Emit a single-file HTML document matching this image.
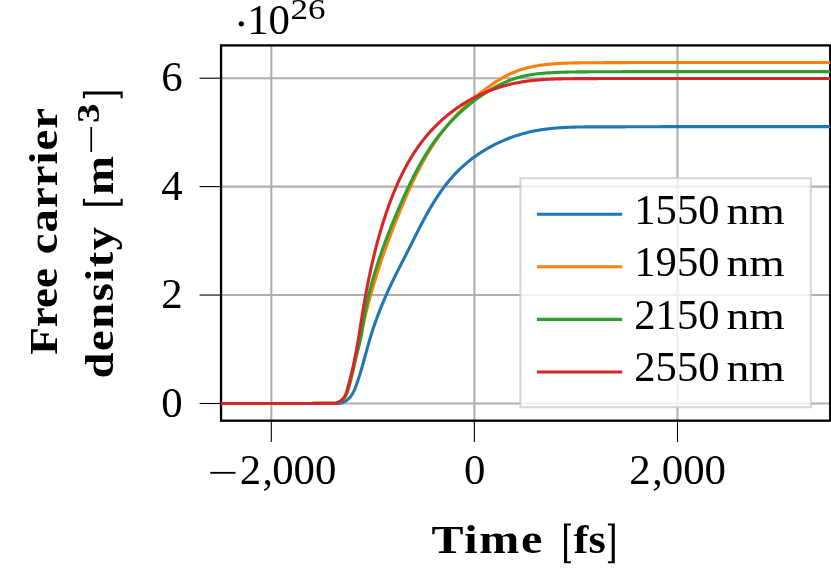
<!DOCTYPE html>
<html><head><meta charset="utf-8"><title>Free carrier density</title>
<style>
html,body{margin:0;padding:0;background:#fff;}
body{width:831px;height:579px;overflow:hidden;}
svg{display:block;will-change:transform;}
text{font-family:"Liberation Serif",serif;fill:#000;}
</style></head><body>
<svg width="831" height="579" viewBox="0 0 831 579">
<rect x="0" y="0" width="831" height="579" fill="#fff"/>
<defs><clipPath id="clip"><rect x="221.05" y="45.4" width="609.15" height="375.30"/></clipPath></defs>
<g stroke="#b0b0b0" stroke-width="2.1" fill="none">
<line x1="271.3" y1="45.4" x2="271.3" y2="420.7"/>
<line x1="474.4" y1="45.4" x2="474.4" y2="420.7"/>
<line x1="677.5" y1="45.4" x2="677.5" y2="420.7"/>
<line x1="221.05" y1="78.2" x2="830.2" y2="78.2"/>
<line x1="221.05" y1="186.6" x2="830.2" y2="186.6"/>
<line x1="221.05" y1="295.05" x2="830.2" y2="295.05"/>
<line x1="221.05" y1="403.5" x2="830.2" y2="403.5"/>
</g>
<g stroke="#000" stroke-width="1.1" fill="none">
<line x1="271.3" y1="420.7" x2="271.3" y2="442.0"/>
<line x1="474.4" y1="420.7" x2="474.4" y2="442.0"/>
<line x1="677.5" y1="420.7" x2="677.5" y2="442.0"/>
<line x1="199.55" y1="78.2" x2="221.05" y2="78.2"/>
<line x1="199.55" y1="186.6" x2="221.05" y2="186.6"/>
<line x1="199.55" y1="295.05" x2="221.05" y2="295.05"/>
<line x1="199.55" y1="403.5" x2="221.05" y2="403.5"/>
</g>
<rect x="221.05" y="45.4" width="609.15" height="375.30" fill="none" stroke="#000" stroke-width="2.3"/>
<g fill="none" stroke-width="3.1" stroke-linecap="round" stroke-linejoin="round" clip-path="url(#clip)">
<path stroke="#1f77b4" d="M221.05 403.50 L299.97 403.50 L299.97 403.49 L301.23 403.49 L302.48 403.49 L303.71 403.49 L304.95 403.49 L306.17 403.49 L307.39 403.49 L308.61 403.49 L309.82 403.49 L311.03 403.49 L312.24 403.49 L313.44 403.49 L314.64 403.48 L315.84 403.47 L317.04 403.46 L318.25 403.45 L319.45 403.44 L320.66 403.44 L321.86 403.44 L323.07 403.44 L324.29 403.44 L325.51 403.44 L326.73 403.44 L327.96 403.44 L329.20 403.44 L330.45 403.44 L331.70 403.44 L332.95 403.44 L334.20 403.44 L335.45 403.44 L336.68 403.44 L337.91 403.44 L339.12 403.35 L340.31 403.15 L341.47 402.87 L342.61 402.51 L343.72 402.06 L344.79 401.52 L345.83 400.90 L346.82 400.20 L347.77 399.44 L348.68 398.62 L349.53 397.74 L350.34 396.81 L351.09 395.84 L351.78 394.84 L352.43 393.81 L353.03 392.74 L353.59 391.66 L354.12 390.55 L354.62 389.42 L355.09 388.29 L355.54 387.14 L355.97 385.99 L356.39 384.83 L356.81 383.68 L357.21 382.53 L357.61 381.37 L358.01 380.22 L358.40 379.07 L358.78 377.92 L359.15 376.77 L359.52 375.61 L359.89 374.45 L360.25 373.29 L360.60 372.13 L360.95 370.97 L361.30 369.80 L361.64 368.63 L361.98 367.46 L362.32 366.28 L362.65 365.10 L362.98 363.93 L363.31 362.75 L363.64 361.56 L363.96 360.38 L364.29 359.20 L364.61 358.01 L364.93 356.83 L365.25 355.64 L365.57 354.45 L365.90 353.27 L366.22 352.08 L366.54 350.89 L366.86 349.71 L367.19 348.52 L367.51 347.34 L367.84 346.15 L368.17 344.97 L368.50 343.79 L368.84 342.61 L369.18 341.43 L369.52 340.25 L369.87 339.08 L370.22 337.91 L370.57 336.74 L370.93 335.57 L371.29 334.40 L371.66 333.24 L372.03 332.08 L372.40 330.92 L372.78 329.76 L373.17 328.61 L373.55 327.46 L373.95 326.30 L374.34 325.16 L374.74 324.01 L375.14 322.87 L375.55 321.72 L375.96 320.58 L376.37 319.44 L376.79 318.31 L377.21 317.17 L377.64 316.04 L378.07 314.90 L378.50 313.77 L378.93 312.65 L379.37 311.52 L379.81 310.39 L380.26 309.27 L380.71 308.15 L381.16 307.02 L381.61 305.90 L382.07 304.79 L382.53 303.67 L382.99 302.55 L383.46 301.44 L383.93 300.32 L384.40 299.21 L384.87 298.10 L385.35 296.99 L385.83 295.88 L386.31 294.77 L386.80 293.67 L387.29 292.56 L387.77 291.45 L388.27 290.35 L388.78 289.25 L389.30 288.14 L389.82 287.04 L390.34 285.94 L390.86 284.84 L391.39 283.74 L391.92 282.64 L392.45 281.54 L392.99 280.44 L393.52 279.35 L394.06 278.25 L394.60 277.15 L395.14 276.06 L395.68 274.96 L396.22 273.86 L396.77 272.77 L397.31 271.67 L397.86 270.58 L398.41 269.48 L398.96 268.39 L399.52 267.29 L400.07 266.20 L400.63 265.10 L401.18 264.01 L401.74 262.91 L402.30 261.82 L402.86 260.72 L403.42 259.63 L403.98 258.53 L404.54 257.44 L405.10 256.34 L405.67 255.25 L406.23 254.15 L406.80 253.05 L407.36 251.95 L407.93 250.86 L408.49 249.76 L409.04 248.66 L409.58 247.56 L410.13 246.46 L410.68 245.36 L411.23 244.26 L411.77 243.16 L412.32 242.05 L412.87 240.95 L413.42 239.85 L413.97 238.74 L414.52 237.64 L415.07 236.54 L415.63 235.43 L416.18 234.33 L416.74 233.23 L417.29 232.13 L417.85 231.02 L418.41 229.92 L418.97 228.82 L419.54 227.72 L420.10 226.63 L420.67 225.53 L421.24 224.43 L421.82 223.34 L422.39 222.25 L422.97 221.16 L423.55 220.07 L424.13 218.98 L424.72 217.90 L425.31 216.81 L425.90 215.73 L426.50 214.66 L427.10 213.58 L427.70 212.51 L428.31 211.44 L428.92 210.37 L429.53 209.30 L430.15 208.24 L430.77 207.18 L431.39 206.13 L432.02 205.08 L432.66 204.03 L433.30 202.98 L433.94 201.94 L434.59 200.90 L435.24 199.87 L435.90 198.84 L436.56 197.82 L437.23 196.80 L437.90 195.78 L438.58 194.77 L439.27 193.76 L439.95 192.76 L440.65 191.76 L441.35 190.77 L442.06 189.78 L442.77 188.80 L443.49 187.82 L444.22 186.85 L444.95 185.89 L445.69 184.93 L446.43 183.97 L447.18 183.03 L447.94 182.08 L448.71 181.15 L449.48 180.22 L450.26 179.30 L451.04 178.38 L451.84 177.47 L452.64 176.56 L453.45 175.67 L454.27 174.78 L455.09 173.90 L455.92 173.02 L456.76 172.15 L457.61 171.29 L458.47 170.44 L459.33 169.59 L460.21 168.75 L461.09 167.92 L461.98 167.10 L462.87 166.29 L463.78 165.48 L464.69 164.68 L465.60 163.89 L466.53 163.10 L467.46 162.32 L468.40 161.56 L469.35 160.79 L470.30 160.04 L471.26 159.30 L472.23 158.56 L473.20 157.83 L474.18 157.11 L475.17 156.40 L476.16 155.69 L477.16 155.00 L478.16 154.31 L479.18 153.63 L480.19 152.96 L481.21 152.29 L482.24 151.64 L483.28 150.99 L484.32 150.35 L485.36 149.72 L486.41 149.10 L487.47 148.49 L488.53 147.88 L489.59 147.28 L490.66 146.70 L491.74 146.12 L492.82 145.55 L493.90 144.99 L494.99 144.43 L496.08 143.89 L497.18 143.35 L498.28 142.83 L499.39 142.31 L500.50 141.80 L501.61 141.30 L502.73 140.81 L503.85 140.33 L504.98 139.86 L506.11 139.39 L507.24 138.94 L508.37 138.49 L509.51 138.06 L510.65 137.63 L511.80 137.21 L512.95 136.80 L514.10 136.40 L515.25 136.01 L516.41 135.63 L517.57 135.26 L518.73 134.90 L519.88 134.55 L521.03 134.21 L522.19 133.87 L523.35 133.55 L524.52 133.24 L525.68 132.93 L526.85 132.64 L528.02 132.35 L529.19 132.08 L530.36 131.81 L531.54 131.55 L532.71 131.31 L533.89 131.07 L535.07 130.84 L536.25 130.62 L537.44 130.40 L538.62 130.20 L539.81 130.00 L541.00 129.81 L542.19 129.63 L543.38 129.46 L544.58 129.29 L545.77 129.13 L546.97 128.98 L548.17 128.84 L549.37 128.70 L550.57 128.57 L551.77 128.44 L552.97 128.32 L554.18 128.21 L555.38 128.11 L556.59 128.01 L557.80 127.91 L559.01 127.82 L560.22 127.74 L561.43 127.66 L562.64 127.58 L563.85 127.51 L565.07 127.45 L566.28 127.39 L567.50 127.33 L568.71 127.28 L569.93 127.24 L571.15 127.19 L572.37 127.15 L573.58 127.12 L574.80 127.08 L576.02 127.05 L577.25 127.03 L578.47 127.00 L579.69 126.98 L580.91 126.96 L582.13 126.95 L583.36 126.93 L584.58 126.92 L585.80 126.91 L587.03 126.90 L588.25 126.89 L589.48 126.89 L590.70 126.88 L591.92 126.88 L593.15 126.88 L594.37 126.88 L595.60 126.88 L596.82 126.88 L598.05 126.88 L599.27 126.88 L600.49 126.87 L601.72 126.87 L602.94 126.87 L604.17 126.87 L605.39 126.87 L606.61 126.87 L607.84 126.87 L609.06 126.87 L610.28 126.86 L611.50 126.86 L612.72 126.86 L613.95 126.86 L615.17 126.86 L616.39 126.85 L617.61 126.85 L618.83 126.85 L620.05 126.84 L621.28 126.84 L622.50 126.84 L623.72 126.83 L624.94 126.83 L626.16 126.82 L627.38 126.82 L628.60 126.82 L629.82 126.81 L631.04 126.81 L632.26 126.80 L633.48 126.80 L634.70 126.79 L635.92 126.79 L637.14 126.78 L638.36 126.78 L639.58 126.77 L640.80 126.77 L642.02 126.76 L643.23 126.76 L644.45 126.75 L645.67 126.75 L646.89 126.74 L648.11 126.73 L649.33 126.73 L650.55 126.72 L651.77 126.72 L652.98 126.71 L654.20 126.71 L655.42 126.70 L656.64 126.70 L657.86 126.69 L659.08 126.68 L660.29 126.68 L661.51 126.67 L662.73 126.67 L663.95 126.66 L665.17 126.66 L666.38 126.65 L667.60 126.65 L668.82 126.64 L670.04 126.64 L671.26 126.63 L672.47 126.63 L673.69 126.62 L674.91 126.62 L676.13 126.61 L677.35 126.61 L678.56 126.60 L679.78 126.60 L681.00 126.60 L682.22 126.60 L683.44 126.60 L684.66 126.60 L685.87 126.60 L687.09 126.60 L688.31 126.60 L689.53 126.60 L690.75 126.60 L691.97 126.60 L693.18 126.60 L694.40 126.60 L695.62 126.60 L696.84 126.60 L698.06 126.60 L699.28 126.60 L700.50 126.60 L701.72 126.60 L702.94 126.60 L704.15 126.60 L705.37 126.60 L706.59 126.60 L707.81 126.60 L709.03 126.60 L710.25 126.60 L711.47 126.60 L712.69 126.60 L713.91 126.60 L715.13 126.60 L716.35 126.60 L717.57 126.60 L718.79 126.60 L720.01 126.60 L721.23 126.60 L722.45 126.60 L723.67 126.60 L724.89 126.60 L726.11 126.60 L727.34 126.60 L728.56 126.60 L729.78 126.60 L731.00 126.60 L732.22 126.60 L733.44 126.60 L734.67 126.60 L735.89 126.60 L737.11 126.60 L738.33 126.60 L739.56 126.60 L740.78 126.60 L742.00 126.60 L743.22 126.60 L744.45 126.60 L745.67 126.60 L746.90 126.60 L748.12 126.60 L749.34 126.60 L750.57 126.60 L830.20 126.60"/>
<path stroke="#ff7f0e" d="M221.05 403.50 L299.99 403.50 L299.99 403.50 L301.34 403.50 L302.69 403.50 L304.03 403.50 L305.36 403.50 L306.69 403.50 L308.02 403.50 L309.34 403.50 L310.66 403.49 L311.97 403.46 L313.29 403.44 L314.60 403.42 L315.92 403.40 L317.24 403.39 L318.56 403.39 L319.88 403.39 L321.21 403.39 L322.54 403.39 L323.87 403.39 L325.21 403.39 L326.56 403.39 L327.91 403.39 L329.25 403.39 L330.60 403.39 L331.94 403.39 L333.27 403.39 L334.60 403.36 L335.91 403.08 L337.20 402.71 L338.47 402.24 L339.68 401.68 L340.84 401.02 L341.93 400.27 L342.92 399.44 L343.82 398.51 L344.62 397.50 L345.33 396.42 L345.96 395.27 L346.52 394.08 L347.03 392.84 L347.48 391.57 L347.91 390.27 L348.30 388.97 L348.69 387.67 L349.06 386.37 L349.43 385.07 L349.78 383.78 L350.13 382.48 L350.46 381.19 L350.80 379.90 L351.13 378.61 L351.46 377.32 L351.79 376.04 L352.10 374.75 L352.42 373.47 L352.72 372.18 L353.03 370.90 L353.32 369.61 L353.62 368.33 L353.91 367.04 L354.20 365.76 L354.49 364.47 L354.77 363.19 L355.05 361.90 L355.34 360.61 L355.62 359.32 L355.90 358.02 L356.18 356.73 L356.46 355.43 L356.74 354.14 L357.03 352.84 L357.31 351.54 L357.59 350.24 L357.87 348.94 L358.16 347.63 L358.44 346.33 L358.73 345.02 L359.01 343.72 L359.30 342.41 L359.59 341.11 L359.87 339.80 L360.15 338.50 L360.43 337.19 L360.70 335.88 L360.98 334.58 L361.27 333.27 L361.55 331.96 L361.83 330.66 L362.12 329.35 L362.41 328.05 L362.70 326.74 L362.99 325.44 L363.29 324.13 L363.59 322.83 L363.89 321.53 L364.19 320.23 L364.50 318.93 L364.81 317.63 L365.12 316.33 L365.43 315.04 L365.75 313.74 L366.07 312.45 L366.39 311.16 L366.72 309.87 L367.05 308.58 L367.38 307.29 L367.71 306.00 L368.05 304.71 L368.39 303.43 L368.73 302.14 L369.07 300.86 L369.42 299.58 L369.77 298.29 L370.12 297.01 L370.48 295.73 L370.84 294.46 L371.20 293.18 L371.56 291.90 L371.93 290.63 L372.29 289.35 L372.66 288.08 L373.04 286.81 L373.41 285.54 L373.79 284.27 L374.17 283.00 L374.56 281.73 L374.94 280.46 L375.33 279.20 L375.72 277.93 L376.11 276.67 L376.51 275.40 L376.91 274.14 L377.31 272.88 L377.71 271.62 L378.11 270.36 L378.52 269.10 L378.93 267.84 L379.34 266.58 L379.76 265.32 L380.17 264.07 L380.59 262.81 L381.02 261.56 L381.44 260.31 L381.86 259.05 L382.29 257.80 L382.72 256.55 L383.16 255.30 L383.59 254.05 L384.03 252.80 L384.47 251.56 L384.91 250.31 L385.35 249.06 L385.80 247.82 L386.25 246.57 L386.70 245.33 L387.15 244.08 L387.60 242.84 L388.06 241.60 L388.52 240.36 L388.98 239.11 L389.44 237.87 L389.91 236.63 L390.37 235.39 L390.84 234.16 L391.31 232.92 L391.79 231.68 L392.26 230.44 L392.74 229.20 L393.22 227.97 L393.70 226.73 L394.18 225.50 L394.66 224.26 L395.15 223.03 L395.64 221.79 L396.13 220.56 L396.62 219.33 L397.12 218.09 L397.61 216.86 L398.11 215.63 L398.61 214.40 L399.11 213.16 L399.62 211.93 L400.12 210.70 L400.63 209.47 L401.14 208.24 L401.65 207.01 L402.16 205.78 L402.68 204.55 L403.19 203.32 L403.71 202.10 L404.23 200.87 L404.76 199.64 L405.28 198.42 L405.81 197.19 L406.34 195.97 L406.88 194.75 L407.41 193.53 L407.95 192.31 L408.50 191.09 L409.04 189.87 L409.59 188.66 L410.14 187.44 L410.70 186.23 L411.26 185.02 L411.82 183.81 L412.38 182.60 L412.95 181.40 L413.52 180.20 L414.10 178.99 L414.68 177.79 L415.26 176.60 L415.85 175.40 L416.44 174.21 L417.04 173.02 L417.64 171.83 L418.24 170.65 L418.85 169.47 L419.46 168.29 L420.08 167.11 L420.70 165.94 L421.33 164.77 L421.96 163.60 L422.59 162.43 L423.23 161.27 L423.88 160.11 L424.53 158.96 L425.18 157.81 L425.84 156.66 L426.51 155.51 L427.18 154.37 L427.86 153.23 L428.54 152.10 L429.23 150.97 L429.92 149.84 L430.62 148.72 L431.32 147.60 L432.03 146.49 L432.75 145.38 L433.47 144.27 L434.20 143.17 L434.94 142.08 L435.68 140.98 L436.42 139.90 L437.18 138.81 L437.94 137.73 L438.70 136.66 L439.48 135.59 L440.26 134.53 L441.04 133.47 L441.84 132.41 L442.64 131.36 L443.45 130.32 L444.26 129.28 L445.08 128.25 L445.91 127.22 L446.75 126.20 L447.59 125.18 L448.43 124.17 L449.26 123.16 L450.11 122.16 L450.96 121.16 L451.82 120.17 L452.69 119.19 L453.56 118.21 L454.44 117.23 L455.33 116.26 L456.22 115.30 L457.12 114.34 L458.02 113.38 L458.93 112.44 L459.85 111.49 L460.78 110.56 L461.71 109.62 L462.64 108.70 L463.59 107.77 L464.53 106.86 L465.49 105.95 L466.45 105.04 L467.41 104.14 L468.39 103.24 L469.36 102.35 L470.35 101.47 L471.33 100.59 L472.33 99.71 L473.35 98.85 L474.37 97.98 L475.39 97.12 L476.42 96.27 L477.46 95.42 L478.50 94.58 L479.55 93.74 L480.60 92.91 L481.65 92.08 L482.71 91.26 L483.78 90.44 L484.85 89.63 L485.92 88.82 L487.00 88.02 L488.08 87.23 L489.17 86.45 L490.27 85.67 L491.37 84.90 L492.47 84.14 L493.58 83.39 L494.70 82.65 L495.82 81.91 L496.94 81.19 L498.07 80.48 L499.21 79.78 L500.35 79.10 L501.50 78.42 L502.66 77.76 L503.82 77.11 L504.98 76.48 L506.15 75.86 L507.33 75.25 L508.52 74.66 L509.71 74.08 L510.90 73.53 L512.11 72.98 L513.32 72.46 L514.53 71.95 L515.75 71.46 L516.98 70.99 L518.22 70.53 L519.46 70.10 L520.71 69.68 L521.96 69.28 L523.22 68.90 L524.49 68.54 L525.76 68.19 L527.03 67.86 L528.32 67.54 L529.60 67.24 L530.89 66.95 L532.18 66.68 L533.48 66.42 L534.78 66.17 L536.09 65.94 L537.40 65.72 L538.71 65.51 L540.02 65.31 L541.33 65.13 L542.65 64.95 L543.97 64.78 L545.29 64.63 L546.62 64.48 L547.94 64.34 L549.27 64.21 L550.59 64.09 L551.92 63.98 L553.24 63.87 L554.57 63.77 L555.90 63.68 L557.22 63.59 L558.55 63.51 L559.88 63.43 L561.21 63.36 L562.54 63.30 L563.86 63.24 L565.19 63.18 L566.52 63.13 L567.85 63.08 L569.18 63.04 L570.51 63.00 L571.84 62.97 L573.17 62.94 L574.49 62.91 L575.82 62.89 L577.15 62.86 L578.48 62.85 L579.81 62.83 L581.14 62.81 L582.47 62.80 L583.80 62.79 L585.13 62.78 L586.46 62.77 L587.79 62.76 L589.12 62.75 L590.45 62.74 L591.78 62.73 L593.11 62.73 L594.44 62.72 L595.77 62.71 L597.10 62.70 L598.43 62.70 L599.76 62.69 L601.09 62.68 L602.42 62.68 L603.75 62.67 L605.08 62.66 L606.41 62.66 L607.74 62.65 L609.07 62.65 L610.40 62.64 L611.73 62.63 L613.06 62.63 L614.39 62.62 L615.72 62.62 L617.05 62.61 L618.38 62.61 L619.70 62.60 L621.03 62.60 L622.36 62.60 L623.69 62.59 L625.02 62.59 L626.35 62.58 L627.68 62.58 L629.01 62.57 L630.34 62.57 L631.67 62.57 L633.00 62.56 L634.33 62.56 L635.66 62.56 L636.99 62.55 L638.32 62.55 L639.65 62.55 L640.98 62.55 L642.31 62.54 L643.64 62.54 L644.97 62.54 L646.30 62.54 L647.63 62.53 L648.95 62.53 L650.28 62.53 L651.61 62.53 L652.94 62.52 L654.27 62.52 L655.60 62.52 L656.93 62.52 L658.26 62.52 L659.59 62.52 L660.92 62.51 L662.25 62.51 L663.58 62.51 L664.91 62.51 L666.24 62.51 L667.57 62.51 L668.90 62.51 L670.23 62.51 L671.56 62.50 L672.89 62.50 L674.22 62.50 L675.54 62.50 L676.87 62.50 L678.20 62.50 L679.53 62.50 L680.86 62.50 L682.19 62.50 L683.52 62.50 L684.85 62.50 L686.18 62.50 L687.51 62.50 L688.84 62.50 L690.17 62.50 L691.50 62.50 L692.83 62.50 L694.16 62.50 L695.49 62.50 L696.82 62.50 L698.15 62.50 L699.48 62.50 L700.81 62.50 L702.13 62.50 L703.46 62.50 L704.79 62.50 L706.12 62.50 L707.45 62.50 L708.78 62.50 L710.11 62.50 L711.44 62.50 L712.77 62.50 L714.10 62.50 L715.43 62.50 L716.76 62.50 L718.09 62.50 L719.42 62.50 L720.75 62.50 L722.08 62.50 L723.41 62.50 L724.74 62.50 L726.07 62.50 L727.40 62.50 L728.73 62.50 L730.06 62.50 L731.39 62.50 L732.72 62.50 L734.04 62.50 L735.37 62.50 L736.70 62.50 L738.03 62.50 L739.36 62.50 L740.69 62.50 L742.02 62.50 L743.35 62.50 L744.68 62.50 L746.01 62.50 L747.34 62.50 L748.67 62.50 L750.00 62.50 L830.20 62.50"/>
<path stroke="#2ca02c" d="M221.05 403.50 L299.99 403.50 L299.99 403.50 L301.35 403.50 L302.70 403.50 L304.04 403.50 L305.36 403.49 L306.68 403.48 L307.99 403.46 L309.30 403.45 L310.60 403.43 L311.90 403.42 L313.19 403.41 L314.49 403.41 L315.79 403.41 L317.09 403.41 L318.39 403.41 L319.71 403.41 L321.02 403.41 L322.35 403.41 L323.69 403.41 L325.03 403.41 L326.39 403.41 L327.75 403.41 L329.11 403.41 L330.46 403.41 L331.81 403.41 L333.15 403.41 L334.47 403.40 L335.76 403.12 L337.04 402.75 L338.27 402.29 L339.46 401.74 L340.59 401.10 L341.65 400.37 L342.63 399.54 L343.52 398.63 L344.33 397.64 L345.04 396.57 L345.69 395.44 L346.27 394.25 L346.79 393.02 L347.27 391.76 L347.70 390.47 L348.11 389.17 L348.50 387.87 L348.87 386.58 L349.23 385.28 L349.58 383.99 L349.92 382.70 L350.24 381.42 L350.55 380.13 L350.87 378.85 L351.18 377.56 L351.49 376.28 L351.79 375.00 L352.08 373.72 L352.37 372.45 L352.66 371.17 L352.95 369.89 L353.23 368.61 L353.52 367.34 L353.81 366.06 L354.10 364.79 L354.40 363.51 L354.70 362.23 L355.01 360.95 L355.32 359.68 L355.64 358.40 L355.97 357.12 L356.30 355.83 L356.64 354.55 L356.98 353.27 L357.32 351.98 L357.66 350.70 L358.00 349.41 L358.34 348.12 L358.68 346.83 L359.01 345.53 L359.34 344.24 L359.66 342.94 L359.97 341.64 L360.28 340.34 L360.56 339.04 L360.83 337.73 L361.09 336.42 L361.34 335.11 L361.57 333.80 L361.80 332.49 L362.02 331.17 L362.24 329.86 L362.45 328.54 L362.65 327.23 L362.86 325.91 L363.06 324.60 L363.26 323.28 L363.47 321.96 L363.67 320.65 L363.88 319.34 L364.09 318.03 L364.31 316.72 L364.54 315.41 L364.76 314.11 L365.00 312.80 L365.24 311.50 L365.48 310.20 L365.73 308.90 L365.99 307.61 L366.25 306.31 L366.51 305.02 L366.78 303.72 L367.06 302.43 L367.34 301.14 L367.62 299.86 L367.91 298.57 L368.21 297.29 L368.51 296.00 L368.81 294.72 L369.12 293.44 L369.43 292.17 L369.75 290.89 L370.07 289.61 L370.40 288.34 L370.73 287.07 L371.06 285.79 L371.40 284.52 L371.74 283.26 L372.09 281.99 L372.44 280.72 L372.80 279.46 L373.16 278.19 L373.52 276.93 L373.89 275.67 L374.26 274.41 L374.64 273.15 L375.02 271.90 L375.40 270.64 L375.79 269.38 L376.18 268.13 L376.58 266.88 L376.98 265.62 L377.38 264.37 L377.78 263.12 L378.19 261.87 L378.61 260.63 L379.02 259.38 L379.44 258.13 L379.87 256.89 L380.29 255.65 L380.72 254.40 L381.16 253.16 L381.59 251.92 L382.03 250.68 L382.47 249.44 L382.92 248.20 L383.37 246.96 L383.82 245.73 L384.28 244.49 L384.73 243.25 L385.19 242.02 L385.66 240.79 L386.12 239.55 L386.59 238.32 L387.06 237.09 L387.54 235.86 L388.02 234.62 L388.50 233.39 L388.98 232.17 L389.46 230.94 L389.95 229.71 L390.44 228.48 L390.93 227.25 L391.42 226.03 L391.92 224.80 L392.42 223.57 L392.92 222.35 L393.42 221.12 L393.93 219.90 L394.44 218.68 L394.94 217.45 L395.46 216.23 L395.97 215.01 L396.48 213.78 L397.00 212.56 L397.52 211.34 L398.04 210.12 L398.56 208.90 L399.09 207.67 L399.61 206.45 L400.14 205.23 L400.67 204.01 L401.20 202.80 L401.74 201.58 L402.27 200.36 L402.81 199.14 L403.35 197.93 L403.90 196.71 L404.44 195.50 L404.99 194.29 L405.55 193.08 L406.10 191.87 L406.66 190.66 L407.22 189.46 L407.78 188.25 L408.35 187.05 L408.92 185.85 L409.50 184.65 L410.07 183.45 L410.66 182.26 L411.24 181.06 L411.83 179.87 L412.42 178.69 L413.02 177.50 L413.62 176.32 L414.22 175.14 L414.83 173.96 L415.44 172.78 L416.06 171.61 L416.68 170.44 L417.31 169.27 L417.94 168.11 L418.57 166.95 L419.21 165.79 L419.85 164.64 L420.50 163.49 L421.16 162.34 L421.82 161.20 L422.48 160.06 L423.15 158.92 L423.82 157.79 L424.50 156.66 L425.19 155.54 L425.88 154.42 L426.58 153.30 L427.28 152.19 L427.99 151.08 L428.70 149.98 L429.42 148.88 L430.15 147.78 L430.88 146.69 L431.62 145.61 L432.36 144.53 L433.11 143.45 L433.87 142.38 L434.63 141.31 L435.40 140.25 L436.18 139.20 L436.96 138.15 L437.75 137.11 L438.55 136.07 L439.35 135.03 L440.17 134.00 L440.98 132.98 L441.81 131.97 L442.64 130.96 L443.48 129.95 L444.33 128.95 L445.19 127.96 L446.05 126.97 L446.92 125.99 L447.80 125.02 L448.67 124.05 L449.54 123.09 L450.43 122.13 L451.32 121.18 L452.21 120.24 L453.12 119.30 L454.03 118.37 L454.95 117.45 L455.88 116.53 L456.81 115.62 L457.75 114.72 L458.69 113.82 L459.65 112.93 L460.61 112.04 L461.58 111.16 L462.55 110.29 L463.53 109.42 L464.52 108.57 L465.51 107.71 L466.51 106.87 L467.52 106.03 L468.53 105.20 L469.55 104.37 L470.58 103.55 L471.61 102.74 L472.65 101.93 L473.69 101.13 L474.74 100.34 L475.81 99.56 L476.88 98.78 L477.97 98.01 L479.05 97.24 L480.15 96.49 L481.25 95.74 L482.35 94.99 L483.46 94.26 L484.58 93.53 L485.70 92.81 L486.83 92.09 L487.96 91.39 L489.10 90.69 L490.25 90.01 L491.39 89.33 L492.55 88.66 L493.71 88.00 L494.87 87.36 L496.04 86.72 L497.22 86.10 L498.40 85.48 L499.58 84.88 L500.77 84.30 L501.97 83.72 L503.17 83.16 L504.38 82.61 L505.59 82.08 L506.80 81.56 L508.02 81.05 L509.25 80.56 L510.48 80.09 L511.71 79.63 L512.95 79.19 L514.19 78.77 L515.44 78.36 L516.69 77.97 L517.95 77.59 L519.21 77.24 L520.48 76.90 L521.75 76.58 L523.02 76.28 L524.30 75.99 L525.58 75.72 L526.87 75.46 L528.16 75.22 L529.45 74.99 L530.74 74.77 L532.04 74.57 L533.34 74.37 L534.64 74.19 L535.95 74.03 L537.25 73.87 L538.56 73.72 L539.87 73.58 L541.19 73.45 L542.50 73.33 L543.82 73.22 L545.13 73.11 L546.45 73.02 L547.77 72.92 L549.09 72.84 L550.41 72.76 L551.73 72.68 L553.05 72.61 L554.37 72.54 L555.69 72.48 L557.01 72.42 L558.33 72.37 L559.65 72.32 L560.97 72.27 L562.29 72.23 L563.61 72.18 L564.93 72.15 L566.25 72.11 L567.58 72.08 L568.90 72.05 L570.22 72.02 L571.54 72.00 L572.86 71.97 L574.19 71.95 L575.51 71.93 L576.83 71.92 L578.15 71.90 L579.47 71.89 L580.80 71.87 L582.12 71.86 L583.44 71.85 L584.76 71.84 L586.08 71.83 L587.41 71.83 L588.73 71.82 L590.05 71.81 L591.37 71.80 L592.70 71.80 L594.02 71.79 L595.34 71.78 L596.66 71.78 L597.98 71.77 L599.31 71.76 L600.63 71.76 L601.95 71.75 L603.27 71.75 L604.60 71.74 L605.92 71.73 L607.24 71.73 L608.56 71.72 L609.88 71.72 L611.21 71.71 L612.53 71.71 L613.85 71.70 L615.17 71.70 L616.49 71.69 L617.82 71.69 L619.14 71.69 L620.46 71.68 L621.78 71.68 L623.10 71.67 L624.43 71.67 L625.75 71.67 L627.07 71.66 L628.39 71.66 L629.71 71.66 L631.04 71.65 L632.36 71.65 L633.68 71.65 L635.00 71.65 L636.32 71.64 L637.64 71.64 L638.97 71.64 L640.29 71.64 L641.61 71.63 L642.93 71.63 L644.25 71.63 L645.58 71.63 L646.90 71.62 L648.22 71.62 L649.54 71.62 L650.86 71.62 L652.18 71.62 L653.51 71.62 L654.83 71.61 L656.15 71.61 L657.47 71.61 L658.79 71.61 L660.12 71.61 L661.44 71.61 L662.76 71.61 L664.08 71.61 L665.40 71.61 L666.72 71.61 L668.05 71.60 L669.37 71.60 L670.69 71.60 L672.01 71.60 L673.33 71.60 L674.65 71.60 L675.98 71.60 L677.30 71.60 L678.62 71.60 L679.94 71.60 L681.26 71.60 L682.58 71.60 L683.91 71.60 L685.23 71.60 L686.55 71.60 L687.87 71.60 L689.19 71.60 L690.52 71.60 L691.84 71.60 L693.16 71.60 L694.48 71.60 L695.80 71.60 L697.12 71.60 L698.45 71.60 L699.77 71.60 L701.09 71.60 L702.41 71.60 L703.73 71.60 L705.06 71.60 L706.38 71.60 L707.70 71.60 L709.02 71.60 L710.34 71.60 L711.66 71.60 L712.99 71.60 L714.31 71.60 L715.63 71.60 L716.95 71.60 L718.27 71.60 L719.60 71.60 L720.92 71.60 L722.24 71.60 L723.56 71.60 L724.88 71.60 L726.21 71.60 L727.53 71.60 L728.85 71.60 L730.17 71.60 L731.49 71.60 L732.82 71.60 L734.14 71.60 L735.46 71.60 L736.78 71.60 L738.10 71.60 L739.43 71.60 L740.75 71.60 L742.07 71.60 L743.39 71.60 L744.71 71.60 L746.04 71.60 L747.36 71.60 L748.68 71.60 L750.00 71.60 L830.20 71.60"/>
<path stroke="#d62728" d="M221.05 403.50 L299.99 403.50 L299.99 403.50 L301.35 403.50 L302.71 403.50 L304.06 403.50 L305.39 403.50 L306.72 403.50 L308.04 403.50 L309.36 403.48 L310.67 403.46 L311.98 403.44 L313.29 403.42 L314.60 403.40 L315.90 403.39 L317.22 403.39 L318.53 403.39 L319.85 403.39 L321.18 403.39 L322.51 403.39 L323.85 403.39 L325.21 403.39 L326.57 403.39 L327.93 403.39 L329.29 403.39 L330.65 403.39 L332.00 403.39 L333.33 403.39 L334.66 403.39 L335.96 403.07 L337.24 402.65 L338.47 402.12 L339.65 401.50 L340.77 400.78 L341.80 399.98 L342.74 399.09 L343.57 398.11 L344.31 397.06 L344.95 395.95 L345.52 394.79 L346.03 393.57 L346.48 392.32 L346.90 391.05 L347.28 389.76 L347.65 388.45 L348.01 387.15 L348.36 385.85 L348.71 384.55 L349.05 383.25 L349.38 381.94 L349.71 380.64 L350.04 379.34 L350.37 378.03 L350.70 376.73 L351.03 375.43 L351.34 374.12 L351.66 372.82 L351.97 371.51 L352.27 370.21 L352.57 368.91 L352.86 367.60 L353.15 366.30 L353.43 364.99 L353.71 363.69 L353.99 362.38 L354.26 361.08 L354.53 359.77 L354.79 358.47 L355.05 357.16 L355.31 355.85 L355.57 354.55 L355.82 353.24 L356.07 351.94 L356.32 350.63 L356.56 349.32 L356.80 348.02 L357.04 346.71 L357.28 345.40 L357.52 344.10 L357.75 342.79 L357.98 341.48 L358.21 340.18 L358.43 338.87 L358.63 337.56 L358.84 336.25 L359.05 334.95 L359.26 333.64 L359.46 332.33 L359.67 331.02 L359.87 329.72 L360.08 328.41 L360.29 327.10 L360.49 325.79 L360.70 324.49 L360.90 323.18 L361.11 321.87 L361.32 320.56 L361.53 319.26 L361.74 317.95 L361.95 316.64 L362.17 315.33 L362.38 314.02 L362.60 312.72 L362.82 311.41 L363.04 310.10 L363.26 308.79 L363.48 307.49 L363.70 306.18 L363.93 304.87 L364.16 303.56 L364.38 302.26 L364.61 300.95 L364.85 299.64 L365.08 298.34 L365.32 297.03 L365.55 295.72 L365.79 294.42 L366.04 293.11 L366.28 291.81 L366.52 290.50 L366.77 289.19 L367.02 287.89 L367.27 286.59 L367.53 285.28 L367.78 283.98 L368.04 282.67 L368.30 281.37 L368.56 280.07 L368.83 278.76 L369.09 277.46 L369.36 276.16 L369.64 274.86 L369.91 273.56 L370.19 272.26 L370.47 270.96 L370.75 269.66 L371.03 268.36 L371.32 267.06 L371.61 265.76 L371.90 264.46 L372.20 263.17 L372.49 261.87 L372.79 260.57 L373.10 259.28 L373.40 257.98 L373.71 256.69 L374.03 255.39 L374.34 254.10 L374.66 252.81 L374.98 251.52 L375.30 250.22 L375.63 248.93 L375.96 247.64 L376.29 246.35 L376.63 245.07 L376.97 243.78 L377.31 242.49 L377.66 241.20 L378.01 239.92 L378.36 238.63 L378.72 237.35 L379.08 236.07 L379.44 234.78 L379.81 233.50 L380.18 232.22 L380.55 230.94 L380.93 229.66 L381.31 228.38 L381.69 227.11 L382.08 225.83 L382.47 224.55 L382.87 223.28 L383.27 222.00 L383.67 220.73 L384.08 219.46 L384.49 218.19 L384.91 216.92 L385.33 215.65 L385.75 214.38 L386.18 213.11 L386.61 211.85 L387.04 210.58 L387.48 209.32 L387.93 208.06 L388.37 206.80 L388.83 205.54 L389.28 204.28 L389.74 203.02 L390.21 201.76 L390.68 200.51 L391.15 199.26 L391.63 198.01 L392.12 196.76 L392.61 195.51 L393.10 194.27 L393.60 193.03 L394.11 191.79 L394.62 190.55 L395.13 189.31 L395.65 188.08 L396.18 186.85 L396.71 185.63 L397.25 184.40 L397.79 183.18 L398.34 181.96 L398.89 180.75 L399.45 179.54 L400.02 178.33 L400.59 177.12 L401.17 175.92 L401.75 174.73 L402.34 173.53 L402.94 172.34 L403.54 171.16 L404.15 169.98 L404.77 168.80 L405.39 167.62 L406.02 166.45 L406.66 165.29 L407.30 164.13 L407.95 162.97 L408.61 161.82 L409.27 160.67 L409.94 159.53 L410.62 158.40 L411.30 157.26 L411.99 156.14 L412.69 155.02 L413.40 153.90 L414.11 152.79 L414.84 151.68 L415.57 150.58 L416.30 149.49 L417.05 148.40 L417.80 147.32 L418.56 146.24 L419.33 145.17 L420.11 144.11 L420.89 143.05 L421.69 142.00 L422.49 140.95 L423.30 139.91 L424.12 138.88 L424.95 137.86 L425.78 136.84 L426.63 135.83 L427.48 134.82 L428.34 133.82 L429.21 132.83 L430.09 131.85 L430.98 130.87 L431.88 129.91 L432.78 128.94 L433.70 127.99 L434.62 127.05 L435.56 126.11 L436.50 125.18 L437.44 124.25 L438.37 123.34 L439.32 122.43 L440.28 121.53 L441.24 120.64 L442.21 119.76 L443.19 118.89 L444.18 118.02 L445.18 117.16 L446.18 116.31 L447.19 115.47 L448.21 114.64 L449.24 113.82 L450.28 113.00 L451.32 112.19 L452.37 111.40 L453.43 110.61 L454.49 109.83 L455.56 109.05 L456.64 108.29 L457.73 107.54 L458.82 106.79 L459.92 106.06 L461.02 105.33 L462.13 104.61 L463.25 103.90 L464.38 103.21 L465.50 102.52 L466.64 101.84 L467.78 101.17 L468.93 100.50 L470.09 99.85 L471.26 99.21 L472.44 98.58 L473.62 97.96 L474.81 97.34 L476.01 96.74 L477.21 96.15 L478.41 95.57 L479.62 94.99 L480.83 94.43 L482.05 93.88 L483.27 93.33 L484.49 92.80 L485.72 92.28 L486.95 91.77 L488.19 91.27 L489.43 90.78 L490.68 90.30 L491.92 89.83 L493.18 89.37 L494.43 88.92 L495.69 88.49 L496.95 88.06 L498.21 87.64 L499.48 87.24 L500.75 86.85 L502.02 86.46 L503.30 86.09 L504.57 85.73 L505.85 85.38 L507.13 85.05 L508.42 84.72 L509.70 84.40 L510.99 84.10 L512.28 83.81 L513.57 83.53 L514.86 83.25 L516.16 82.99 L517.46 82.74 L518.75 82.50 L520.06 82.27 L521.36 82.05 L522.66 81.84 L523.97 81.64 L525.27 81.44 L526.58 81.26 L527.89 81.08 L529.20 80.91 L530.51 80.75 L531.83 80.60 L533.14 80.46 L534.46 80.32 L535.77 80.19 L537.09 80.07 L538.41 79.95 L539.73 79.84 L541.06 79.74 L542.38 79.65 L543.70 79.55 L545.03 79.47 L546.35 79.39 L547.68 79.32 L549.01 79.25 L550.33 79.19 L551.66 79.13 L552.99 79.08 L554.32 79.03 L555.65 78.98 L556.98 78.94 L558.31 78.90 L559.65 78.87 L560.98 78.84 L562.31 78.81 L563.65 78.78 L564.98 78.76 L566.31 78.74 L567.65 78.73 L568.98 78.71 L570.32 78.70 L571.65 78.69 L572.99 78.68 L574.32 78.67 L575.66 78.66 L576.99 78.65 L578.33 78.65 L579.66 78.64 L581.00 78.63 L582.33 78.63 L583.66 78.62 L585.00 78.62 L586.33 78.61 L587.67 78.61 L589.00 78.60 L590.33 78.60 L591.67 78.59 L593.00 78.59 L594.33 78.58 L595.67 78.58 L597.00 78.58 L598.33 78.57 L599.66 78.57 L601.00 78.57 L602.33 78.56 L603.66 78.56 L604.99 78.55 L606.33 78.55 L607.66 78.55 L608.99 78.55 L610.32 78.54 L611.65 78.54 L612.98 78.54 L614.32 78.53 L615.65 78.53 L616.98 78.53 L618.31 78.53 L619.64 78.53 L620.97 78.52 L622.30 78.52 L623.63 78.52 L624.96 78.52 L626.30 78.52 L627.63 78.51 L628.96 78.51 L630.29 78.51 L631.62 78.51 L632.95 78.51 L634.28 78.51 L635.61 78.51 L636.94 78.51 L638.27 78.51 L639.60 78.50 L640.93 78.50 L642.26 78.50 L643.59 78.50 L644.92 78.50 L646.25 78.50 L647.58 78.50 L648.91 78.50 L650.24 78.50 L651.57 78.50 L652.90 78.50 L654.22 78.50 L655.55 78.50 L656.88 78.50 L658.21 78.50 L659.54 78.50 L660.87 78.50 L662.20 78.50 L663.53 78.50 L664.86 78.50 L666.19 78.50 L667.52 78.50 L668.85 78.50 L670.18 78.50 L671.51 78.50 L672.84 78.50 L674.17 78.50 L675.50 78.50 L676.82 78.50 L678.15 78.50 L679.48 78.50 L680.81 78.50 L682.14 78.50 L683.47 78.50 L684.80 78.50 L686.13 78.50 L687.46 78.50 L688.79 78.50 L690.12 78.50 L691.45 78.50 L692.78 78.50 L694.11 78.50 L695.44 78.50 L696.77 78.50 L698.10 78.50 L699.43 78.50 L700.76 78.50 L702.09 78.50 L703.42 78.50 L704.75 78.50 L706.08 78.50 L707.41 78.50 L708.74 78.50 L710.07 78.50 L711.40 78.50 L712.73 78.50 L714.06 78.50 L715.39 78.50 L716.72 78.50 L718.05 78.50 L719.38 78.50 L720.72 78.50 L722.05 78.50 L723.38 78.50 L724.71 78.50 L726.04 78.50 L727.37 78.50 L728.70 78.50 L730.04 78.50 L731.37 78.50 L732.70 78.50 L734.03 78.50 L735.36 78.50 L736.70 78.50 L738.03 78.50 L739.36 78.50 L740.69 78.50 L742.03 78.50 L743.36 78.50 L744.69 78.50 L746.02 78.50 L747.36 78.50 L748.69 78.50 L750.02 78.50 L830.20 78.50"/>
</g>
<rect x="520.4" y="178.2" width="290.40" height="229.00" fill="#fff" fill-opacity="0.8" stroke="#ccc" stroke-opacity="0.8" stroke-width="2.1"/>
<line x1="536.9" y1="214.2" x2="622.2" y2="214.2" stroke="#1f77b4" stroke-width="3.1"/>
<text transform="translate(634.3 223.6) scale(1.027 1.0)" font-size="41.5">1550</text>
<text transform="translate(726.4 223.6) scale(1.1 0.93)" font-size="41.5">nm</text>
<line x1="536.9" y1="266.8" x2="622.2" y2="266.8" stroke="#ff7f0e" stroke-width="3.1"/>
<text transform="translate(634.3 276.2) scale(1.027 1.0)" font-size="41.5">1950</text>
<text transform="translate(726.4 276.2) scale(1.1 0.93)" font-size="41.5">nm</text>
<line x1="536.9" y1="319.4" x2="622.2" y2="319.4" stroke="#2ca02c" stroke-width="3.1"/>
<text transform="translate(634.3 328.79999999999995) scale(1.027 1.0)" font-size="41.5">2150</text>
<text transform="translate(726.4 328.79999999999995) scale(1.1 0.93)" font-size="41.5">nm</text>
<line x1="536.9" y1="372.0" x2="622.2" y2="372.0" stroke="#d62728" stroke-width="3.1"/>
<text transform="translate(634.3 381.4) scale(1.027 1.0)" font-size="41.5">2550</text>
<text transform="translate(726.4 381.4) scale(1.1 0.93)" font-size="41.5">nm</text>
<circle cx="241.3" cy="23.8" r="2.6" fill="#000"/>
<text transform="translate(247.2 33.6) scale(1.032 1.0)" font-size="41.5">10</text>
<text transform="translate(290.6 18.7) scale(1.2 1.0)" font-size="29.2">26</text>
<text transform="translate(161.2 91.4) scale(1.032 1.0)" font-size="41.5">6</text>
<text transform="translate(161.2 199.79999999999998) scale(1.032 1.0)" font-size="41.5">4</text>
<text transform="translate(161.2 308.25) scale(1.032 1.0)" font-size="41.5">2</text>
<text transform="translate(161.2 416.7) scale(1.032 1.0)" font-size="41.5">0</text>
<text transform="translate(207.6 485.0) scale(1.315 0.9)" font-size="41.5">−</text>
<text transform="translate(239.7 484.1) scale(1.032 1.0)" font-size="41.5">2</text>
<text transform="translate(262.6 484.1) scale(1.0 1.0)" font-size="41.5">,</text>
<text transform="translate(272.2 484.1) scale(1.032 1.0)" font-size="41.5">000</text>
<text transform="translate(464.0 484.1) scale(1.032 1.0)" font-size="41.5">0</text>
<text transform="translate(629.3 484.1) scale(1.032 1.0)" font-size="41.5">2</text>
<text transform="translate(652.2 484.1) scale(1.0 1.0)" font-size="41.5">,</text>
<text transform="translate(661.8 484.1) scale(1.032 1.0)" font-size="41.5">000</text>
<text transform="translate(431.4 553.4) scale(1.17 1.0)" font-size="41" letter-spacing="1.5" font-weight="bold">Time</text>
<path d="M564.00 523.50H570.90V525.60H567.10V561.20H570.90V563.30H564.00Z" fill="#000"/>
<text transform="translate(573.6 553.4) scale(1.085 1.0)" font-size="41" font-weight="bold">fs</text>
<path d="M614.80 523.50H607.90V525.60H611.70V561.20H607.90V563.30H614.80Z" fill="#000"/>
<g transform="translate(57.3 354.8) rotate(-90)"><text transform="translate(0 0) scale(1.1 1.0)" font-size="41" font-weight="bold">Free</text><text transform="translate(100.6 0) scale(1.137 1.0)" font-size="41" letter-spacing="0.95" font-weight="bold">carrier</text></g>
<g transform="translate(112.8 378.6) rotate(-90)"><text transform="translate(0.2 0) scale(1.137 1.0)" font-size="41" letter-spacing="1.33" font-weight="bold">density</text><path d="M172.90 -29.90H179.80V-27.80H176.00V7.80H179.80V9.90H172.90Z" fill="#000"/><text transform="translate(183.6 0) scale(1.14 1.0)" font-size="41" font-weight="bold">m</text><text transform="translate(223.8 -9.9) scale(1.86 1.2)" font-size="29">−</text><text transform="translate(255.6 -14.3) scale(1.35 1.07)" font-size="29" font-weight="bold">3</text><path d="M287.20 -29.90H280.30V-27.80H284.10V7.80H280.30V9.90H287.20Z" fill="#000"/></g>
</svg></body></html>
